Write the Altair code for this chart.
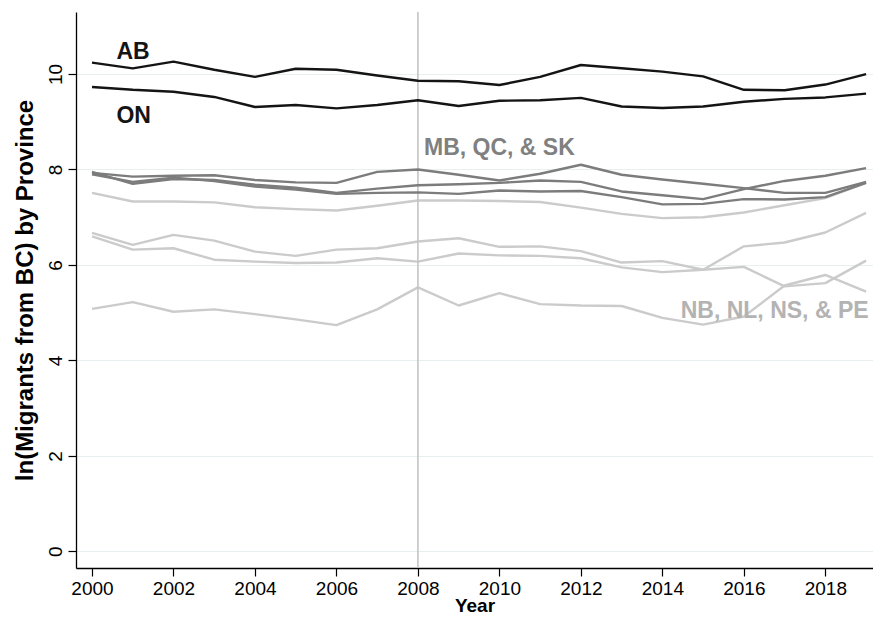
import altair as alt
import pandas as pd

years = list(range(2000, 2020))

AB = [10.24, 10.12, 10.26, 10.09, 9.94, 10.11, 10.09, 9.97, 9.86, 9.85,
      9.77, 9.94, 10.19, 10.12, 10.05, 9.95, 9.67, 9.66, 9.78, 10.00]
ON = [9.73, 9.67, 9.63, 9.52, 9.31, 9.35, 9.28, 9.35, 9.45, 9.33,
      9.44, 9.45, 9.50, 9.32, 9.29, 9.32, 9.42, 9.48, 9.51, 9.59]

MB = [7.93, 7.85, 7.87, 7.88, 7.78, 7.73, 7.72, 7.95, 8.00, 7.89,
      7.77, 7.91, 8.10, 7.89, 7.79, 7.70, 7.61, 7.51, 7.51, 7.74]
QC = [7.95, 7.70, 7.80, 7.78, 7.68, 7.62, 7.51, 7.60, 7.67, 7.69,
      7.72, 7.77, 7.74, 7.54, 7.46, 7.38, 7.59, 7.76, 7.87, 8.03]
SK = [7.90, 7.74, 7.83, 7.76, 7.64, 7.58, 7.49, 7.51, 7.52, 7.49,
      7.56, 7.54, 7.55, 7.42, 7.27, 7.28, 7.38, 7.37, 7.42, 7.72]

NB = [7.51, 7.33, 7.33, 7.31, 7.21, 7.17, 7.14, 7.24, 7.35, 7.35,
      7.34, 7.32, 7.20, 7.07, 6.98, 7.00, 7.10, 7.25, 7.40, 7.72]
NL = [6.67, 6.42, 6.63, 6.51, 6.28, 6.19, 6.32, 6.35, 6.49, 6.56,
      6.38, 6.39, 6.29, 6.05, 6.08, 5.90, 6.39, 6.47, 6.68, 7.09]
NS = [6.60, 6.32, 6.35, 6.11, 6.07, 6.04, 6.05, 6.14, 6.07, 6.24,
      6.20, 6.19, 6.14, 5.95, 5.85, 5.90, 5.96, 5.55, 5.62, 6.09]
PE = [5.08, 5.22, 5.02, 5.07, 4.97, 4.86, 4.74, 5.07, 5.53, 5.15,
      5.41, 5.18, 5.15, 5.14, 4.89, 4.75, 4.92, 5.57, 5.79, 5.44]

groups = {
    "big": {"AB": AB, "ON": ON},
    "mid": {"MB": MB, "QC": QC, "SK": SK},
    "small": {"NB": NB, "NL": NL, "NS": NS, "PE": PE},
}
group_colors = {"big": "#141414", "mid": "#7c7c7c", "small": "#cbcbcb"}

label_text = ["AB", "ON", "MB, QC, & SK", "NB, NL, NS, & PE"]
label_year = [2000.6, 2000.6, 2008.15, 2014.45]
label_value = [10.47, 9.13, 8.46, 5.04]
label_color = ["#141414", "#141414", "#808080", "#b3b3b3"]

rows = []
for g, provs in groups.items():
    for p, vals in provs.items():
        for y, v in zip(years, vals):
            rows.append({"year": y, "value": v, "prov": p, "group": g})
df = pd.DataFrame(rows)

XMIN, XMAX = 1999.607, 2019.17
YMIN, YMAX = -0.35, 11.3
FONT = "Liberation Sans, Arial, sans-serif"

xs = alt.Scale(domain=[XMIN, XMAX], nice=False, zero=False)
ys = alt.Scale(domain=[YMIN, YMAX], nice=False, zero=False)

x_enc = alt.X(
    "year:Q", scale=xs,
    axis=alt.Axis(
        values=list(range(2000, 2019, 2)), format="d", title="Year",
        grid=False, domainColor="#000000", domainWidth=1.3,
        tickColor="#000000", tickSize=8, tickWidth=1.2,
        labelFont=FONT, labelFontSize=19, labelColor="#000000", labelPadding=3,
        titleFont=FONT, titleFontSize=19, titleFontWeight="bold",
        titleColor="#000000", titlePadding=-2,
    ),
)
y_enc = alt.Y(
    "value:Q", scale=ys,
    axis=alt.Axis(
        values=[0, 2, 4, 6, 8, 10], title="ln(Migrants from BC) by Province",
        grid=True, gridColor="#e7eff1", gridWidth=1.2,
        domainColor="#000000", domainWidth=1.3,
        tickColor="#000000", tickSize=8, tickWidth=1.2,
        labelAngle=270, labelAlign="center", labelBaseline="bottom",
        labelFont=FONT, labelFontSize=19, labelColor="#000000", labelPadding=3,
        titleFont=FONT, titleFontSize=24, titleFontWeight="bold",
        titleColor="#000000", titlePadding=9,
    ),
)

base = alt.Chart(df)

rule = alt.Chart(pd.DataFrame({"year": [2008]})).mark_rule(
    color="#c4c4c4", strokeWidth=1.6
).encode(x=alt.X("year:Q", scale=xs))


def group_layer(g, width):
    return base.transform_filter(alt.datum.group == g).mark_line(
        color=group_colors[g], strokeWidth=width, strokeJoin="round"
    ).encode(x=x_enc, y=y_enc, detail="prov:N")


lab_df = pd.DataFrame({
    "text": label_text, "year": label_year, "value": label_value,
    "color": label_color,
})
labels = alt.Chart(lab_df).mark_text(
    align="left", baseline="middle", font=FONT, fontSize=23, fontWeight="bold",
).encode(
    x=alt.X("year:Q", scale=xs),
    y=alt.Y("value:Q", scale=ys),
    text="text:N",
    color=alt.Color("color:N", scale=None),
)

chart = alt.layer(
    group_layer("small", 2.4),
    rule,
    group_layer("mid", 2.4),
    group_layer("big", 2.4),
    labels,
).properties(
    width=797, height=556,
    autosize=alt.AutoSizeParams(type="none"),
    padding={"left": 68, "top": 4, "right": 0, "bottom": 47},
    background="#ffffff",
).configure_view(stroke=None)

chart.save("out.html", embed_options={"renderer": "svg", "actions": False})
